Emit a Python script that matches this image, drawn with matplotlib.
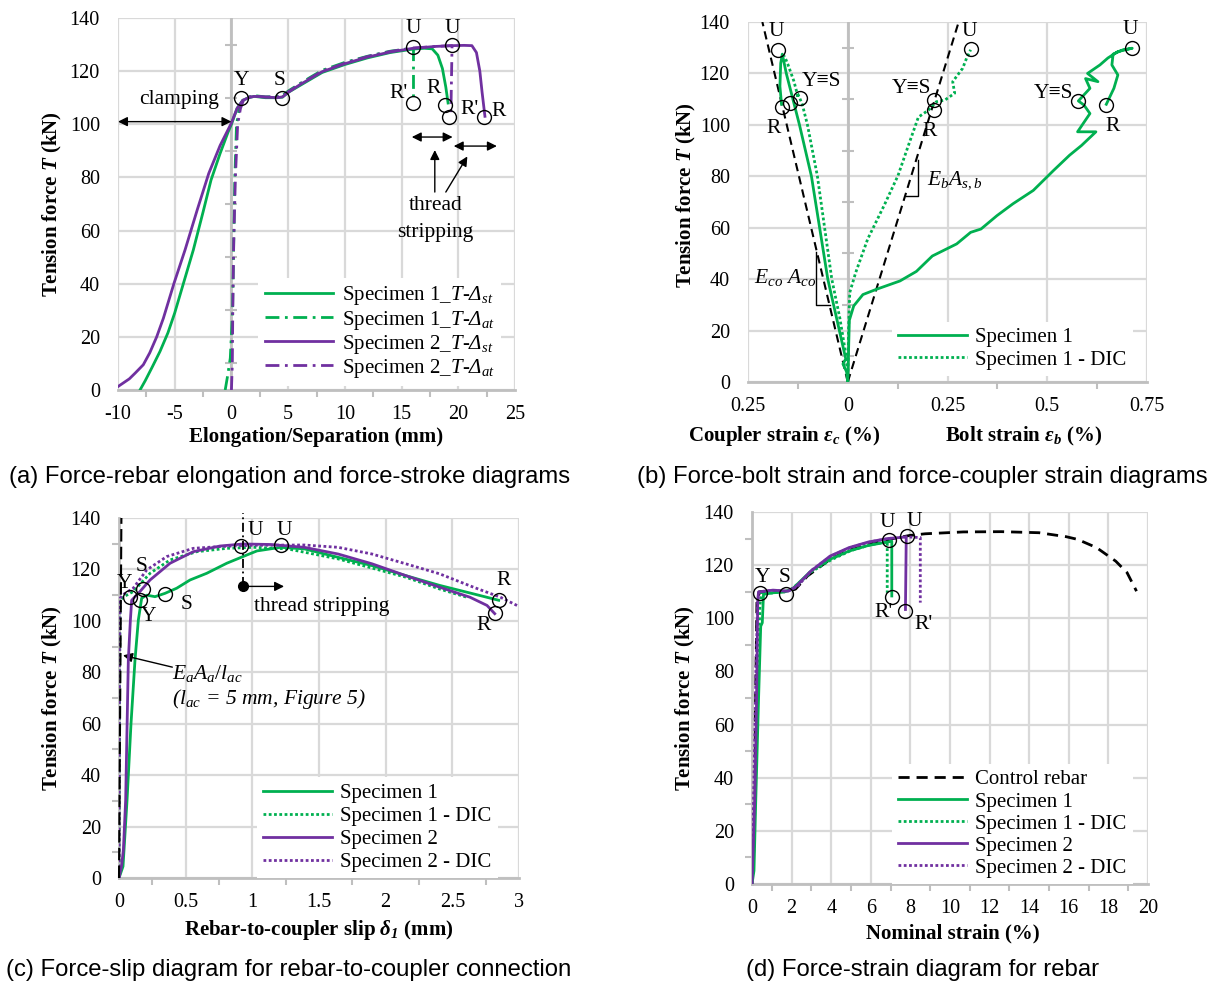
import numpy as np
import matplotlib
matplotlib.use("Agg")
import matplotlib.pyplot as plt
from matplotlib.ticker import MultipleLocator

plt.rcParams['font.family'] = ['Liberation Serif', 'DejaVu Serif']
plt.rcParams['mathtext.fontset'] = 'custom'
plt.rcParams['mathtext.rm'] = 'Liberation Serif'
plt.rcParams['mathtext.it'] = 'Liberation Serif:italic'
plt.rcParams['mathtext.sf'] = 'Liberation Serif:italic'
plt.rcParams['mathtext.bf'] = 'Liberation Serif:bold'
plt.rcParams['mathtext.bfit'] = 'Liberation Serif:italic:bold'
plt.rcParams['axes.unicode_minus'] = False

GREEN = '#00B050'
PURPLE = '#7030A0'
GRID = '#D9D9D9'
AXC = '#BFBFBF'

# ---------------- Panel (a) data ----------------
a_s1_st_x = [-8.06, -7.6, -7.0, -6.3, -5.6, -5.0, -4.24, -3.36, -2.5, -1.8, -1.0, -0.3, 0.0, 0.5, 1.0,
             1.5, 2.0, 3.0, 4.0, 4.5, 5.0, 6.0, 7.0, 8.0, 10.0, 12.0, 14.0, 16.0, 17.0, 17.7, 18.2, 18.6, 18.9, 19.1]
a_s1_st_y = [0, 3.5, 8.5, 14.5, 21.5, 29, 40, 52.7, 67, 79, 89, 97, 100, 106, 109,
             110, 110.5, 110, 110, 110.2, 112, 114.5, 117, 119.5, 122.5, 125, 127, 128.3, 128.6, 128.4, 126, 121, 114, 108]
a_s1_at_x = [-0.55, -0.35, -0.1, 0.1, 0.2, 0.3, 0.45, 0.7, 1.0, 1.5, 2.0, 3.0, 4.0, 4.5, 5.0, 6.0, 7.0, 8.0,
             10.0, 12.0, 14.0, 15.9, 16.05, 16.05]
a_s1_at_y = [0, 5, 12, 30, 55, 80, 100, 106, 109, 110.2, 110.8, 110.3, 110.5, 110.8, 112.5, 115.2, 117.8, 120.3,
             123.3, 125.6, 127.5, 128.6, 128.6, 110]
a_s2_st_x = [-10.0, -9.0, -8.5, -7.77, -7.2, -6.59, -6.0, -5.06, -4.09, -3.0, -2.0, -1.0, 0.0, 0.5, 1.0,
             1.5, 2.0, 3.0, 4.0, 4.5, 5.0, 6.0, 7.0, 8.0, 10.0, 12.0, 14.0, 16.0, 18.0, 19.5, 20.5, 21.2, 21.6, 21.9,
             22.1, 22.35]
a_s2_st_y = [1.3, 4.2, 6.3, 9.5, 14, 20, 27, 40.2, 52.7, 68, 81.5, 92, 100.5, 106, 109,
             110, 110.5, 110.3, 110, 110.3, 112, 114.8, 117.3, 119.8, 122.8, 125.3, 127.2, 128.6, 129.3, 129.6, 129.7,
             129.6, 127, 120, 112, 103]
a_s2_at_x = [0.0, 0.08, 0.12, 0.2, 0.35, 0.55, 0.8, 1.1, 1.5, 2.0, 3.0, 4.0, 4.5, 5.0, 6.0, 7.0, 8.0,
             10.0, 12.0, 14.0, 16.0, 18.0, 19.4, 19.45, 19.35]
a_s2_at_y = [0, 10, 30, 55, 80, 100, 106, 109.5, 110.3, 110.6, 110.2, 110.3, 110.5, 112.2, 115, 117.5, 120,
             123, 125.5, 127.4, 128.7, 129.3, 129.6, 129.6, 104.5]
a_pts_x = [0.85, 4.5, 16.04, 19.48, 16.04, 18.84, 19.2, 22.3]
a_pts_y = [110, 110, 129.2, 129.8, 107.9, 107.3, 102.6, 102.9]
a_lbl_text = ['Y', 'S', 'U', 'U', "R'", 'R', "R'", 'R']
a_lbl_x = [0.85, 4.2, 16.04, 19.48, 14.7, 17.8, 21.0, 23.6]
a_lbl_y = [116.5, 116.5, 136.0, 136.0, 111.5, 113.5, 105.5, 105.0]

# ---------------- Panel (b) data ----------------
b_s1_cp_x = [0, -0.003, -0.012, -0.005, -0.05, -0.091, -0.121, -0.154, -0.164, -0.168, -0.170, -0.166]
b_s1_cp_y = [0, 4, 7, 9, 40, 80, 100, 120, 127.5, 124, 115, 108]
b_s1dic_cp_x = [0, -0.004, -0.02, -0.04, -0.076, -0.101, -0.114, -0.122, -0.127, -0.124, -0.135, -0.15, -0.158, -0.165]
b_s1dic_cp_y = [0, 10, 25, 40, 80, 100, 108, 111, 112.5, 110.5, 117, 123.5, 126.5, 127]
b_s1_bt_x = [0, 0.002, 0.004, 0.015, 0.038, 0.071, 0.131, 0.172, 0.212, 0.273, 0.308, 0.334, 0.374, 0.414, 0.465,
             0.516, 0.556, 0.586, 0.622, 0.576, 0.607, 0.592, 0.578, 0.607, 0.596, 0.627, 0.601, 0.632, 0.652, 0.677,
             0.713, 0.69, 0.665, 0.662, 0.677, 0.667, 0.648]
b_s1_bt_y = [0, 12, 24, 29.6, 34, 36, 39.3, 43, 49, 53.7, 58.2, 59.5, 64.7, 69.3, 74.5,
             82.3, 88.2, 92, 97.3, 97.3, 104.4, 107.7, 109.3, 114.2, 118, 116.8, 120, 123.3, 126, 128.5,
             129.8, 129.2, 127.5, 123.3, 119.4, 114.2, 108]
b_s1dic_bt_x = [0, 0.002, 0.005, 0.02, 0.05, 0.091, 0.126, 0.152, 0.177, 0.202, 0.222, 0.243, 0.268, 0.263, 0.288,
                0.298, 0.308]
b_s1dic_bt_y = [0, 20, 34.8, 42.6, 55.6, 68.6, 80.3, 92, 103, 105.7, 109, 109.6, 112.3, 116.8, 122, 126, 129.2]
b_ref_cp_x = [0, -0.214]
b_ref_bt_x = [0, 0.278]
b_ref_y = [0, 140]
b_pts_x = [-0.175, -0.166, -0.144, -0.119, 0.217, 0.215, 0.308, 0.576, 0.647, 0.713]
b_pts_y = [129.0, 107.0, 108.5, 110.5, 109.6, 105.7, 129.4, 109.3, 107.7, 129.8]
b_lbl_text = ['U', 'R', 'Y≡S', 'Y≡S', 'R', 'U', 'U', 'Y≡S', 'R']
b_lbl_x = [-0.18, -0.187, -0.066, 0.16, 0.205, 0.305, 0.708, 0.516, 0.665]
b_lbl_y = [136.5, 98.5, 116.8, 114.2, 97.3, 136.5, 137.0, 112.3, 99.2]

# ---------------- Panel (c) data ----------------
c_s1_x = [0, 0.03, 0.06, 0.09, 0.12, 0.145, 0.17, 0.208, 0.27, 0.345, 0.433, 0.533, 0.658, 0.808, 0.958, 1.035,
          1.212, 1.39, 1.643, 1.897, 2.15, 2.404, 2.658, 2.848]
c_s1_y = [0, 4.5, 30, 60, 84.8, 100.3, 108.8, 110, 109.4, 110.7, 112.7, 115.9, 118.5, 122.4, 125.6, 127.2,
          128.6, 128, 124.7, 121.5, 117.6, 113.8, 110.5, 108]
c_s1dic_x = [0, 0.003, 0.005, 0.0075, 0.04, 0.107, 0.233, 0.383, 0.583, 0.808, 1.009, 1.263, 1.643, 2.15, 2.404, 2.607]
c_s1dic_y = [0, 40, 80, 108, 109.5, 111.4, 118.5, 123.7, 126.9, 128.2, 128.6, 128, 124.1, 117, 112.4, 109.2]
c_s2_x = [0, 0.02, 0.033, 0.05, 0.07, 0.085, 0.095, 0.157, 0.233, 0.383, 0.557, 0.757, 0.93, 1.136, 1.39, 1.643,
          1.897, 2.15, 2.404, 2.632, 2.76, 2.818]
c_s2_y = [0, 5, 11, 30.4, 84.8, 100, 108, 111.4, 115.9, 122.4, 126.9, 129.1, 129.9, 129.7, 128.6, 126,
          122.2, 117.6, 113.1, 109.2, 106, 102.8]
c_s2dic_x = [0, 0.002, 0.004, 0.0075, 0.04, 0.107, 0.208, 0.358, 0.557, 0.756, 1.009, 1.39, 1.643, 1.897, 2.15,
             2.404, 2.658, 2.86, 3.0]
c_s2dic_y = [0, 40, 80, 108.8, 110.5, 112.7, 119.8, 125, 128.2, 128.9, 129.4, 129.5, 128.6, 126, 122.2,
             118.3, 113.1, 109.2, 105.6]
c_ref_x = [0, 0.018]
c_ref_y = [0, 140]
c_pts_x = [0.0825, 0.157, 0.182, 0.345, 0.916, 1.212, 2.848, 2.818]
c_pts_y = [109.2, 108.1, 112.3, 110.5, 129.3, 129.5, 108.2, 103.2]
c_lbl_text = ['Y', 'Y', 'S', 'S', 'U', 'U', 'R', 'R']
c_lbl_x = [0.045, 0.22, 0.17, 0.508, 1.02, 1.238, 2.886, 2.734]
c_lbl_y = [114.6, 101.6, 121.1, 106.2, 135.2, 135.2, 115.7, 98.2]
c_strip_x = 0.928
c_strip_y = 113.4

# ---------------- Panel (d) data ----------------
d_ctrl_x = [0, 0.1, 0.18, 0.25, 0.4, 1.0, 1.8, 2.2, 2.8, 4.0, 5.0, 6.0, 7.0, 7.98, 8.75, 10.67, 12.6, 14.5, 15.87,
            16.44, 17.4, 18.37, 18.94, 19.42]
d_ctrl_y = [0, 30, 70, 107, 110, 110, 110, 111, 115.9, 122.5, 125.8, 128, 129.8, 131.2, 131.8, 132.5, 132.6, 132.2,
            130.7, 129.7, 126.6, 121.5, 117.2, 110.2]
d_s1_x = [0, 0.1, 0.19, 0.33, 0.44, 0.52, 0.58, 1.06, 1.63, 2.02, 2.98, 3.94, 4.9, 5.87, 6.83, 7.06, 7.06]
d_s1_y = [0, 5, 31.8, 69.4, 97, 98.3, 109, 109.6, 109.9, 110.9, 117.8, 122.2, 125.3, 127.4, 128.7, 129, 108.4]
d_s1dic_x = [0, 0.08, 0.18, 0.3, 0.4, 0.5, 1.0, 1.5, 1.9, 2.5, 3.0, 4.0, 5.0, 6.0, 6.83, 6.83]
d_s1dic_y = [0, 10, 40, 80, 105, 110, 109.5, 110, 110.5, 114, 117.5, 122, 125.5, 127.7, 128.8, 109.6]
d_s2_x = [0, 0.14, 0.23, 0.29, 0.33, 1.06, 1.83, 2.21, 2.98, 3.94, 4.9, 5.87, 6.83, 7.79, 7.75]
d_s2_y = [0, 32, 69, 107, 109.9, 110.6, 110.2, 111.9, 117.8, 123.4, 126.6, 128.7, 130, 130.6, 103.3]
d_s2dic_x = [0, 0.1, 0.2, 0.28, 0.35, 1.0, 1.8, 2.3, 3.0, 4.0, 5.0, 6.0, 7.0, 7.8, 8.5, 8.5]
d_s2dic_y = [0, 40, 80, 105, 110, 110.5, 110.2, 112, 118, 123.5, 126.7, 128.8, 130.1, 130.6, 130.4, 105.9]
d_pts_x = [0.38, 1.73, 6.92, 7.83, 7.06, 7.75]
d_pts_y = [109.6, 109.2, 129.5, 130.9, 108.1, 102.7]
d_lbl_text = ['Y', 'S', 'U', 'U', "R'", "R'"]
d_lbl_x = [0.52, 1.63, 6.83, 8.21, 6.63, 8.65]
d_lbl_y = [115.5, 115.5, 136.0, 136.5, 102.0, 97.7]

captions = ['(a) Force-rebar elongation and force-stroke diagrams',
            '(b) Force-bolt strain and force-coupler strain diagrams',
            '(c) Force-slip diagram for rebar-to-coupler connection',
            '(d) Force-strain diagram for rebar']

TICK_FS = 14.5
LAB_FS = 15
LEG_FS = 15
ANN_FS = 15.5
CAP_FS = 17.2
LW = 2.0
DOT = (0, (1, 0.9))
DASHDOT = (0, (5, 2, 1, 2))
DASH = (0, (4, 2.5))

fig = plt.figure(figsize=(12.18, 9.85), dpi=100)

def px_axes(l, t, r, b):
    W, H = 1218.0, 985.0
    return fig.add_axes([l / W, 1 - b / H, (r - l) / W, (b - t) / H])

def style(ax, xlim, xmajor, xminor, ymajor=20, yminor=10, left_axis=True):
    ax.set_xlim(*xlim)
    ax.set_ylim(0, 140)
    ax.xaxis.set_major_locator(MultipleLocator(xmajor))
    ax.xaxis.set_minor_locator(MultipleLocator(xminor))
    ax.yaxis.set_major_locator(MultipleLocator(ymajor))
    ax.yaxis.set_minor_locator(MultipleLocator(yminor))
    ax.grid(True, which='major', color=GRID, lw=1.6, zorder=0)
    for s in ['top', 'right']:
        ax.spines[s].set_visible(False)
    ax.spines['bottom'].set_color(AXC)
    ax.spines['bottom'].set_linewidth(2.0)
    ax.spines['left'].set_visible(left_axis)
    ax.spines['left'].set_color(AXC)
    ax.spines['left'].set_linewidth(2.0)
    ax.tick_params(which='major', length=0, labelsize=TICK_FS)
    ax.tick_params(axis='x', which='major', pad=11)
    ax.tick_params(axis='y', which='major', pad=13)
    ax.tick_params(axis='x', which='minor', direction='out', length=5, width=1.5, color=AXC)
    if left_axis:
        ax.tick_params(axis='y', which='minor', direction='out', length=5, width=1.5, color=AXC)
    else:
        ax.tick_params(axis='y', which='minor', length=0)
    ax.set_axisbelow(True)

def center_axis(ax):
    ax.axvline(0, color=AXC, lw=2.0, zorder=1)
    yt = np.arange(10, 140, 20)
    ax.plot(np.zeros_like(yt), yt, ls='none', marker='_', ms=9, mew=1.5, color=AXC, zorder=1)

def circles(ax, xs, ys):
    ax.plot(xs, ys, ls='none', marker='o', ms=10, mfc='none', mec='black', mew=1.0, zorder=6)

def labels(ax, txt, xs, ys, **kw):
    for t, x, y in zip(txt, xs, ys):
        ax.text(x, y, t, ha='center', va='center', fontsize=ANN_FS, zorder=7,
                family=['Liberation Serif', 'DejaVu Serif'], **kw)

def ylab(ax, xfrac, yfrac=0.5):
    ax.set_ylabel(r'Tension force $\mathbfit{T}$ (kN)', fontsize=LAB_FS, fontweight='bold')
    ax.yaxis.set_label_coords(xfrac, yfrac)
    ax.yaxis.label.set_va('center')

def legend(ax, spacing=0.12, anchor=(1.0, 0.0), pad=0.3):
    leg = ax.legend(loc='lower right', bbox_to_anchor=anchor, fontsize=LEG_FS, frameon=True,
                    fancybox=False, edgecolor='none', facecolor='white', framealpha=1.0,
                    handlelength=3.3, handletextpad=0.4, labelspacing=spacing, borderpad=0.3,
                    borderaxespad=pad)
    leg.set_zorder(8)
    return leg

# ---------------- (a) ----------------
ax = px_axes(118, 18, 515, 390)
style(ax, (-10, 25), 5, 2.5, left_axis=False)
center_axis(ax)
ax.plot(a_s1_st_x, a_s1_st_y, color=GREEN, lw=LW, zorder=3, label=r'Specimen 1_$T$-$\mathsf{\Delta}_{st}$')
ax.plot(a_s1_at_x, a_s1_at_y, color=GREEN, lw=LW, ls=DASHDOT, zorder=3, label=r'Specimen 1_$T$-$\mathsf{\Delta}_{at}$')
ax.plot(a_s2_st_x, a_s2_st_y, color=PURPLE, lw=LW, zorder=4, label=r'Specimen 2_$T$-$\mathsf{\Delta}_{st}$')
ax.plot(a_s2_at_x, a_s2_at_y, color=PURPLE, lw=LW, ls=DASHDOT, zorder=4, label=r'Specimen 2_$T$-$\mathsf{\Delta}_{at}$')
circles(ax, a_pts_x, a_pts_y)
labels(ax, a_lbl_text, a_lbl_x, a_lbl_y)
arr2 = dict(arrowstyle='<|-|>', color='black', lw=1.0, mutation_scale=14, shrinkA=0, shrinkB=0)
arr1 = dict(arrowstyle='-|>', color='black', lw=1.0, mutation_scale=14, shrinkA=0, shrinkB=0)
ax.annotate('', xy=(-10, 101), xytext=(0, 101), arrowprops=arr2, zorder=6)
ax.text(-4.6, 109.5, 'clamping', ha='center', va='center', fontsize=ANN_FS)
ax.annotate('', xy=(15.9, 95.2), xytext=(19.5, 95.2), arrowprops=arr2)
ax.annotate('', xy=(19.6, 91.8), xytext=(23.4, 91.8), arrowprops=arr2)
ax.annotate('', xy=(17.93, 90.3), xytext=(17.93, 74.5), arrowprops=arr1)
ax.annotate('', xy=(20.8, 87.9), xytext=(18.9, 74.5), arrowprops=arr1)
ax.text(18.0, 69.3, 'thread', ha='center', va='center', fontsize=ANN_FS)
ax.text(18.0, 59.1, 'stripping', ha='center', va='center', fontsize=ANN_FS)
legend(ax, spacing=0.05, anchor=(0.975, 0.0), pad=0.2)
ax.set_xlabel('Elongation/Separation (mm)', fontsize=LAB_FS, fontweight='bold')
ax.xaxis.set_label_coords(0.5, -0.127)
ax.xaxis.label.set_va('center')
ylab(ax, -0.166)

# ---------------- (b) ----------------
ax = px_axes(748, 22, 1147, 382)
style(ax, (-0.25, 0.75), 0.25, 0.125, left_axis=False)
center_axis(ax)
ax.set_xticks([-0.25, 0, 0.25, 0.5, 0.75])
ax.set_xticklabels(['0.25', '0', '0.25', '0.5', '0.75'])
ax.plot(b_ref_cp_x, b_ref_y, color='black', lw=1.5, ls=DASH, zorder=2)
ax.plot(b_ref_bt_x, b_ref_y, color='black', lw=1.5, ls=DASH, zorder=2)
ax.plot([-0.0456, -0.08, -0.08], [29.8, 29.8, 50.5], color='black', lw=1.0, zorder=2)
ax.plot([0.1466, 0.177, 0.177], [72.5, 72.5, 86.2], color='black', lw=1.0, zorder=2)
ax.plot(b_s1_cp_x, b_s1_cp_y, color=GREEN, lw=LW, zorder=3, label='Specimen 1')
ax.plot(b_s1dic_cp_x, b_s1dic_cp_y, color=GREEN, lw=LW, ls=DOT, zorder=3, label='Specimen 1 - DIC')
ax.plot(b_s1_bt_x, b_s1_bt_y, color=GREEN, lw=LW, zorder=3)
ax.plot(b_s1dic_bt_x, b_s1dic_bt_y, color=GREEN, lw=LW, ls=DOT, zorder=3)
circles(ax, b_pts_x, b_pts_y)
labels(ax, b_lbl_text, b_lbl_x, b_lbl_y)
ax.text(-0.157, 40.6, r'$E_{co}\ A_{co}$', ha='center', va='center', fontsize=ANN_FS)
ax.text(0.198, 78.4, r'$E_bA_{s,b}$', ha='left', va='center', fontsize=ANN_FS)
legend(ax, anchor=(0.98, 0.0))
ax.text(0.09, -0.15, r'Coupler strain $\mathbfit{\varepsilon}_{\mathbfit{c}}$ (%)', transform=ax.transAxes,
        ha='center', va='center', fontsize=LAB_FS, fontweight='bold')
ax.text(0.69, -0.15, r'Bolt strain $\mathbfit{\varepsilon}_{\mathbfit{b}}$ (%)', transform=ax.transAxes,
        ha='center', va='center', fontsize=LAB_FS, fontweight='bold')
ylab(ax, -0.153, 0.52)

# ---------------- (c) ----------------
ax = px_axes(119, 518, 519, 878)
style(ax, (0, 3), 0.5, 0.25, left_axis=True)
ax.set_xticks([0, 0.5, 1, 1.5, 2, 2.5, 3])
ax.set_xticklabels(['0', '0.5', '1', '1.5', '2', '2.5', '3'])
ax.plot(c_ref_x, c_ref_y, color='black', lw=1.5, ls=(0, (6, 2.5)), zorder=5, clip_on=False)
ax.plot(c_s1_x, c_s1_y, color=GREEN, lw=LW, zorder=3, label='Specimen 1')
ax.plot(c_s1dic_x, c_s1dic_y, color=GREEN, lw=LW, ls=DOT, zorder=3, label='Specimen 1 - DIC')
ax.plot(c_s2_x, c_s2_y, color=PURPLE, lw=LW, zorder=4, label='Specimen 2')
ax.plot(c_s2dic_x, c_s2dic_y, color=PURPLE, lw=LW, ls=DOT, zorder=4, label='Specimen 2 - DIC')
circles(ax, c_pts_x, c_pts_y)
labels(ax, c_lbl_text, c_lbl_x, c_lbl_y)
ax.plot([c_strip_x, c_strip_x], [c_strip_y, 142], color='black', lw=1.3, ls=(0, (5, 2, 1, 2)), zorder=5,
        clip_on=False)
ax.plot([c_strip_x], [c_strip_y], marker='o', ms=7, color='black', zorder=6)
ax.annotate('', xy=(1.238, c_strip_y), xytext=(c_strip_x, c_strip_y), arrowprops=arr1)
ax.text(1.517, 105.6, 'thread stripping', ha='center', va='center', fontsize=ANN_FS)
ax.annotate('', xy=(0.03, 86.6), xytext=(0.4, 82.0), arrowprops=arr1)
ax.text(0.4, 79.5, r'$E_aA_a/l_{ac}$', ha='left', va='center', fontsize=ANN_FS)
ax.text(0.4, 69.8, r'($l_{ac}$ = 5 mm, Figure 5)', ha='left', va='center', fontsize=ANN_FS, style='italic')
legend(ax, spacing=0.17, anchor=(0.955, -0.01), pad=0.15)
ax.set_xlabel(r'Rebar-to-coupler slip $\mathbfit{\delta_1}$ (mm)', fontsize=LAB_FS, fontweight='bold')
ax.xaxis.set_label_coords(0.5, -0.144)
ax.xaxis.label.set_va('center')
ylab(ax, -0.167)

# ---------------- (d) ----------------
ax = px_axes(752, 512, 1148, 884)
style(ax, (0, 20), 2, 1, left_axis=True)
ax.plot(d_ctrl_x, d_ctrl_y, color='black', lw=LW, ls=DASH, zorder=2, label='Control rebar')
ax.plot(d_s1_x, d_s1_y, color=GREEN, lw=LW, zorder=3, label='Specimen 1')
ax.plot(d_s1dic_x, d_s1dic_y, color=GREEN, lw=LW, ls=DOT, zorder=3, label='Specimen 1 - DIC')
ax.plot(d_s2_x, d_s2_y, color=PURPLE, lw=LW, zorder=4, label='Specimen 2')
ax.plot(d_s2dic_x, d_s2dic_y, color=PURPLE, lw=LW, ls=DOT, zorder=4, label='Specimen 2 - DIC')
circles(ax, d_pts_x, d_pts_y)
labels(ax, d_lbl_text, d_lbl_x, d_lbl_y)
legend(ax, spacing=0.12, anchor=(0.962, 0.0), pad=0.0)
ax.set_xlabel('Nominal strain (%)', fontsize=LAB_FS, fontweight='bold')
ax.xaxis.set_label_coords(0.507, -0.132)
ax.xaxis.label.set_va('center')
ylab(ax, -0.167)

# ---------------- captions ----------------
cap_pos = [(290, 477), (922, 477), (289, 970), (923, 970)]
for txt, (cx, cy) in zip(captions, cap_pos):
    fig.text(cx / 1218.0, 1 - cy / 985.0, txt, ha='center', va='center', fontsize=CAP_FS,
             family=['Liberation Sans', 'DejaVu Sans'])

fig.savefig('out.png', dpi=100)
